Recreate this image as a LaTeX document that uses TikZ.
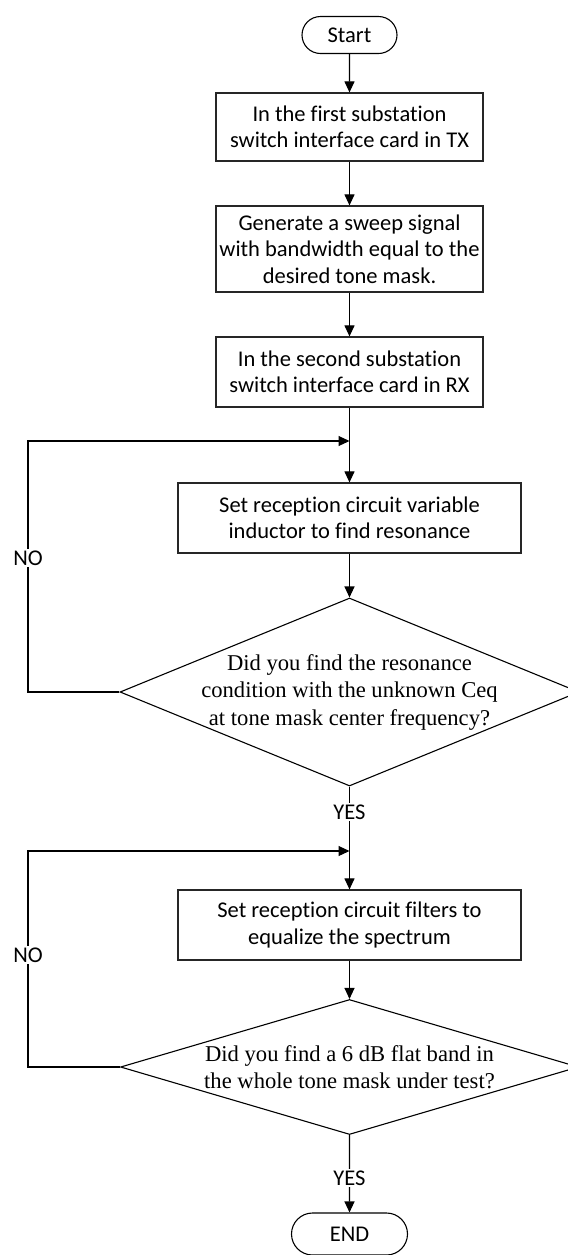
\documentclass[tikz,border=0pt]{standalone}
\usepackage{fontspec}
\setmainfont{Carlito}[Ligatures=NoCommon]
\newfontfamily\tnr{Liberation Serif}
\usetikzlibrary{shapes.geometric,shapes.misc,arrows.meta}
\begin{document}
\begin{tikzpicture}[x=1bp,y=-1bp,
  every node/.style={font=\fontsize{22.5bp}{26.5bp}\selectfont},
  proc/.style={draw=black!85, rectangle, align=center, inner sep=0pt, line width=1.2bp},
  term/.style={draw, rounded rectangle, inner sep=0pt, line width=1.1bp},
  dec/.style={draw, diamond, inner sep=0pt, line width=1.1bp},
  dectext/.style={align=center, inner sep=0pt, font=\tnr\fontsize{22.6bp}{27.5bp}\selectfont},
  lbl/.style={fill=white, inner sep=1.5bp},
  conn/.style={line width=1.1bp, -{Triangle[length=11bp,width=10bp]}},
  wire/.style={line width=1.1bp}
]
\useasboundingbox (0,0) rectangle (568,1255);

% nodes
\node[term, minimum width=95bp, minimum height=37bp] (start) at (349.5,35) {Start};
\node[proc, minimum width=267bp, minimum height=68bp] (b1) at (349.5,127)
  {In the first substation\\switch interface card in TX};
\node[proc, minimum width=267bp, minimum height=86bp] (b2) at (349.5,249)
  {Generate a sweep signal\\with bandwidth equal to the\\desired tone mask.};
\node[proc, minimum width=267bp, minimum height=70bp] (b3) at (349.5,372)
  {In the second substation\\switch interface card in RX};
\coordinate (m1) at (349.5,441);
\node[proc, minimum width=343bp, minimum height=70bp] (b4) at (349.5,518)
  {Set reception circuit variable\\inductor to find resonance};
\node[dec, minimum width=459bp, minimum height=188bp] (d1) at (349.5,692) {};
\node[dectext] (t1) at (d1.center)
  {Did you find the resonance\\condition with the unknown Ceq\\at tone mask center frequency?};
\coordinate (m2) at (349.5,851);
\node[proc, minimum width=343bp, minimum height=70bp] (b5) at (349.5,925)
  {Set reception circuit filters to\\equalize the spectrum};
\node[dec, minimum width=458bp, minimum height=135bp] (d2) at (349.5,1067) {};
\node[dectext] (t2) at (d2.center)
  {Did you find a 6 dB flat band in\\the whole tone mask under test?};
\node[term, minimum width=116bp, minimum height=42bp] (end) at (349.5,1234) {END};

\coordinate (l1) at (28,441);
\coordinate (l2) at (28,851);

% connectors
\draw[conn] (start) -- (b1);
\draw[conn] (b1) -- (b2);
\draw[conn] (b2) -- (b3);
\draw[conn] (b3) -- (b4);
\draw[conn] (b4) -- (d1);
\draw[conn] (d1.west) -| (l1) -- (m1);
\draw[conn] (d1.south) -- (b5);
\draw[conn] (b5) -- (d2);
\draw[conn] (d2.west) -| (l2) -- (m2);
\draw[conn] (d2.south) -- (end);

% labels
\node[lbl] (no1) at (28,558) {NO};
\node[lbl] (yes1) at (349.5,812) {YES};
\node[lbl] (no2) at (28,955) {NO};
\node[lbl] (yes2) at (349.5,1178) {YES};
\end{tikzpicture}
\end{document}
